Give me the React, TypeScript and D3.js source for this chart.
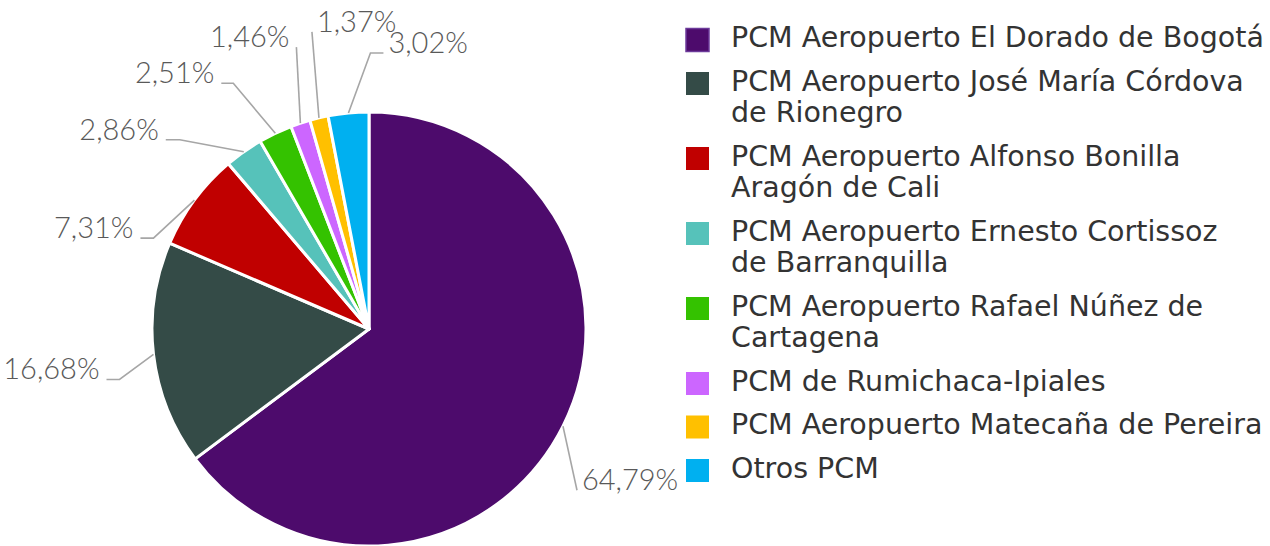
import React from "react";
import * as d3 from "d3";

const categories = [
  "PCM Aeropuerto El Dorado de Bogotá",
  "PCM Aeropuerto José María Córdova de Rionegro",
  "PCM Aeropuerto Alfonso Bonilla Aragón de Cali",
  "PCM Aeropuerto Ernesto Cortissoz de Barranquilla",
  "PCM Aeropuerto Rafael Núñez de Cartagena",
  "PCM de Rumichaca-Ipiales",
  "PCM Aeropuerto Matecaña de Pereira",
  "Otros PCM",
];
const legendLines = [
  ["PCM Aeropuerto El Dorado de Bogotá"],
  ["PCM Aeropuerto José María Córdova", "de Rionegro"],
  ["PCM Aeropuerto Alfonso Bonilla", "Aragón de Cali"],
  ["PCM Aeropuerto Ernesto Cortissoz", "de Barranquilla"],
  ["PCM Aeropuerto Rafael Núñez de", "Cartagena"],
  ["PCM de Rumichaca-Ipiales"],
  ["PCM Aeropuerto Matecaña de Pereira"],
  ["Otros PCM"],
];
const values = [64.79, 16.68, 7.31, 2.86, 2.51, 1.46, 1.37, 3.02];
const colors = ["#4d0b6c", "#344b47", "#c00000", "#56c2ba", "#34c200", "#cc66ff", "#ffc000", "#00b0f0"];

// label leader layout: elbow offset from slice edge midpoint, tail length, text side
const labelLayout = [
  { dx: 14, dy: 64, tail: 0, side: "start" },
  { dx: -34, dy: 25, tail: -13, side: "end" },
  { dx: -41, dy: 38, tail: -13, side: "end" },
  { dx: -64, dy: -12, tail: -14, side: "end" },
  { dx: -42, dy: -50, tail: -12, side: "end" },
  { dx: -4, dy: -76, tail: 0, side: "end" },
  { dx: -7, dy: -86, tail: 0, side: "start" },
  { dx: 22, dy: -60, tail: 13, side: "start" },
];

const W = 1270;
const H = 546;
const CX = 369;
const CY = 329;
const R = 217;

const fmt = (v: number) => v.toFixed(2).replace(".", ",") + "%";

export default function App() {
  const pie = d3.pie<number>().sort(null).value((d) => d)(values);
  const arc = d3.arc<d3.PieArcDatum<number>>().innerRadius(0).outerRadius(R);

  const legendX = 686;
  const textX = 731;
  const lineH = 31.5;
  const gap = 43.5;
  let y = 37;
  const legendRows = legendLines.map((lines, i) => {
    const row = { y, lines, i };
    y += (lines.length - 1) * lineH + gap;
    return row;
  });

  return (
    <div style={{ position: "absolute", left: 0, top: 0 }}>
      <svg width={W} height={H} style={{ display: "block" }}>
        <rect width={W} height={H} fill="#ffffff" />
        <g transform={`translate(${CX},${CY})`}>
          {pie.map((p, i) => (
            <path key={i} d={arc(p) || ""} fill={colors[i]} stroke="#ffffff" strokeWidth={3} strokeLinejoin="round" />
          ))}
          {pie.map((p, i) => {
            const mid = (p.startAngle + p.endAngle) / 2;
            const sx = Math.sin(mid) * R;
            const sy = -Math.cos(mid) * R;
            const L = labelLayout[i];
            const ex = sx + L.dx;
            const ey = sy + L.dy;
            const tx = ex + L.tail;
            const pts = [[sx, sy], [ex, ey], [tx, ey]];
            const textX2 = L.side === "end" ? tx - 7 : tx + 5;
            return (
              <g key={"l" + i}>
                <path d={d3.line()(pts as [number, number][]) || ""} fill="none" stroke="#a6a6a6" strokeWidth={1.6} />
                <text
                  x={textX2}
                  y={ey}
                  textAnchor={L.side}
                  fontFamily="Lato, 'Open Sans', sans-serif"
                  fontWeight={300}
                  fontSize={29}
                  fill="#595959"
                >
                  {fmt(values[i])}
                </text>
              </g>
            );
          })}
        </g>
        <g>
          {legendRows.map((r) => (
            <g key={r.i}>
              <rect x={legendX} y={r.y + 3 - 11.5} width={23} height={23} fill={colors[r.i]} stroke={r.i === 0 ? "#6c3a9a" : "none"} strokeWidth={1.5} />
              {r.lines.map((t, k) => (
                <text
                  key={k}
                  x={textX}
                  y={r.y + k * lineH}
                  dy="0.36em"
                  fontFamily="'DejaVu Sans', sans-serif"
                  fontSize={28.5}
                  fill="#333333"
                >
                  {t}
                </text>
              ))}
            </g>
          ))}
        </g>
      </svg>
    </div>
  );
}
